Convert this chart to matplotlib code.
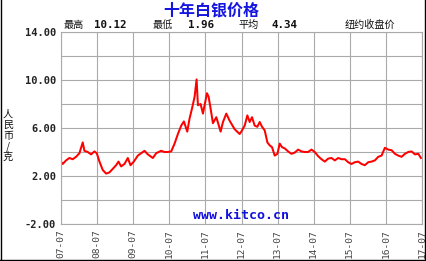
import matplotlib
matplotlib.use("Agg")
import matplotlib.pyplot as plt
from matplotlib.lines import Line2D

# ---- data (decimal year, price CNY/gram) ----
years = [
    2007.50, 2007.547, 2007.640, 2007.732, 2007.825, 2007.917, 2008.010, 2008.102,
    2008.148, 2008.241, 2008.333, 2008.426, 2008.491, 2008.565, 2008.657, 2008.750,
    2008.842, 2008.935, 2009.027, 2009.092, 2009.166, 2009.258, 2009.351, 2009.425,
    2009.517, 2009.628, 2009.721, 2009.813, 2009.906, 2010.044, 2010.137, 2010.275,
    2010.368, 2010.461, 2010.553, 2010.646, 2010.738, 2010.830, 2010.904, 2010.997,
    2011.062, 2011.127, 2011.201, 2011.256, 2011.293, 2011.367, 2011.432, 2011.478,
    2011.543, 2011.589, 2011.645, 2011.709, 2011.802, 2011.922, 2011.987, 2012.079,
    2012.172, 2012.310, 2012.449, 2012.495, 2012.588, 2012.662, 2012.727, 2012.791,
    2012.865, 2012.939, 2013.004, 2013.069, 2013.143, 2013.217, 2013.281, 2013.346,
    2013.420, 2013.494, 2013.559, 2013.624, 2013.698, 2013.790, 2013.883, 2013.975,
    2014.068, 2014.160, 2014.253, 2014.345, 2014.438, 2014.530, 2014.623, 2014.715,
    2014.808, 2014.900, 2014.993, 2015.085, 2015.178, 2015.270, 2015.363, 2015.455,
    2015.547, 2015.640, 2015.733, 2015.825, 2015.918, 2016.010, 2016.102, 2016.195,
    2016.287, 2016.380, 2016.472, 2016.565, 2016.657, 2016.750, 2016.842, 2016.935,
    2017.027, 2017.120, 2017.212, 2017.305, 2017.397, 2017.471,
]
prices = [
    3.2, 3.0, 3.3, 3.5, 3.4, 3.6, 3.9, 4.8,
    4.1, 4.0, 3.8, 4.05, 3.9, 3.2, 2.5, 2.2,
    2.3, 2.6, 2.9, 3.2, 2.8, 3.0, 3.5, 2.9,
    3.2, 3.7, 3.9, 4.1, 3.8, 3.5, 3.9, 4.1,
    4.0, 4.0, 4.05, 4.7, 5.5, 6.2, 6.55, 5.7,
    6.8, 7.6, 8.6, 10.05, 7.9, 8.0, 7.2, 7.9,
    8.9, 8.6, 7.6, 6.4, 6.9, 5.7, 6.5, 7.2,
    6.6, 5.9, 5.5, 5.7, 6.2, 7.05, 6.5, 6.9,
    6.2, 6.1, 6.5, 6.1, 5.8, 4.8, 4.55, 4.4,
    3.7, 3.85, 4.7, 4.4, 4.3, 4.05, 3.85, 3.95,
    4.2, 4.05, 4.0, 4.0, 4.2, 4.0, 3.65, 3.4,
    3.2, 3.45, 3.5, 3.3, 3.5, 3.4, 3.4, 3.15,
    3.0, 3.15, 3.2, 3.0, 2.9, 3.15, 3.2, 3.3,
    3.6, 3.7, 4.35, 4.2, 4.15, 3.85, 3.7, 3.6,
    3.85, 4.0, 4.05, 3.8, 3.85, 3.5,
]
year_ticks = [2007.5 + i for i in range(11)]
year_labels = ["07-07", "08-07", "09-07", "10-07", "11-07", "12-07",
               "13-07", "14-07", "15-07", "16-07", "17-07"]
y_ticks = [-2, 0, 2, 4, 6, 8, 10, 12, 14]
y_labels = ["-2.00", "", "2.00", "", "6.00", "", "10.00", "", "14.00"]

title = "十年白银价格"
stats = [("最高", "10.12"), ("最低", "1.96"), ("平均", "4.34")]
note = "纽约收盘价"
ylabel = "人\n民\n币\n/\n克"
watermark = "www.kitco.cn"

# ---- figure ----
W, H = 427, 261
fig = plt.figure(figsize=(W / 100, H / 100), dpi=100)
fig.patch.set_facecolor("white")

def fx(x):
    return x / W

def fy(y):
    return 1 - y / H

cjk = ["Noto Sans CJK SC", "DejaVu Sans"]
mono = ["DejaVu Sans Mono"]

ax = fig.add_axes([fx(61), fy(224), fx(422) - fx(61), fy(32) - fy(224)])
ax.plot(years, prices, color="#ff0000", lw=1.45, solid_joinstyle="round")
ax.set_xlim(2007.5, 2017.5)
ax.set_ylim(-2, 14)
ax.set_xticks(year_ticks)
ax.set_xticklabels(year_labels, rotation=90, family=mono, fontsize=6.8, color="#444444")
ax.set_yticks(y_ticks)
ax.set_yticklabels(y_labels, family=mono, fontsize=7.5, fontweight="bold", color="#222222")
ax.tick_params(length=0, pad=3.5)
ax.grid(True, color="#aaaaaa", lw=0.8)
ax.set_axisbelow(True)
for s in ax.spines.values():
    s.set_color("#aaaaaa")
    s.set_linewidth(0.8)

ax.text(0.5, 0.045, watermark, transform=ax.transAxes, ha="center", va="center",
        family=mono, fontsize=9.5, fontweight="bold", color="#1010dd")

# title & stats
fig.text(fx(211), fy(10), title, ha="center", va="center", family=cjk,
         fontsize=11.5, fontweight="bold", color="#1515e0")
stat_x = [(64, 94), (153, 188), (238, 272)]
for (lab, val), (xl, xv) in zip(stats, stat_x):
    fig.text(fx(xl), fy(25), lab, ha="left", va="center", family=cjk, fontsize=7.3, color="#111111")
    fig.text(fx(xv), fy(25), val, ha="left", va="center", family=mono, fontsize=7.8,
             fontweight="bold", color="#111111")
fig.text(fx(345), fy(25), note, ha="left", va="center", family=cjk, fontsize=7.3, color="#111111")

fig.text(fx(8), fy(136), ylabel, ha="center", va="center", family=cjk, fontsize=7.3,
         linespacing=1.05, color="#111111")

# outer frame
for xs, ys in [((0.5, 0.5), (0, 259.5)), ((425.5, 425.5), (0, 259.5)), ((0, 426), (259.5, 259.5))]:
    fig.add_artist(Line2D([fx(v) for v in xs], [fy(v) for v in ys], color="black", lw=1.0,
                          transform=fig.transFigure))

fig.savefig("out.png", dpi=100)
